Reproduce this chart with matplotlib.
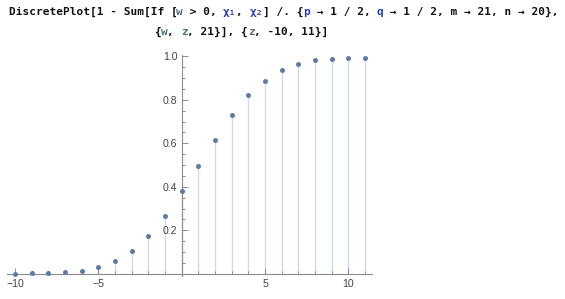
import matplotlib
matplotlib.use("Agg")
import matplotlib.pyplot as plt
from matplotlib.ticker import MultipleLocator, FixedLocator, FuncFormatter

z_values = list(range(-10, 12))
probabilities = [0.0, 0.004, 0.004, 0.007, 0.013, 0.033, 0.059, 0.107, 0.173, 0.266, 0.379,
                 0.496, 0.617, 0.729, 0.824, 0.888, 0.936, 0.963, 0.983, 0.988, 0.992, 0.992]
x_major_ticks = [-10, -5, 5, 10]
y_major_ticks = [0.2, 0.4, 0.6, 0.8, 1.0]

W, H, DPI = 565, 299, 100
fig = plt.figure(figsize=(W / DPI, H / DPI), dpi=DPI)

# Code text (Mathematica input)
BLACK = "#111111"
VAR = "#4f7286"
SYM = "#2b3fb0"
line1 = [("DiscretePlot[1 - Sum[If [", BLACK), ("w", VAR), (" > 0, ", BLACK), ("χ₁", SYM),
         (", ", BLACK), ("χ₂", SYM), ("] /. {", BLACK), ("p", SYM), (" → 1 / 2, ", BLACK),
         ("q", SYM), (" → 1 / 2, m → 21, n → 20},", BLACK)]
line2 = [("{", BLACK), ("w", VAR), (", ", BLACK), ("z", VAR), (", 21}], {", BLACK),
         ("z", VAR), (", -10, 11}]", BLACK)]

fs = 8.0
adv_px = 0.602 * fs * DPI / 72.0


def draw_line(segments, x0_px, y_px):
    x = x0_px
    for txt, col in segments:
        fig.text(x / W, 1 - y_px / H, txt, family="DejaVu Sans Mono", weight="bold",
                 fontsize=fs, color=col, ha="left", va="center")
        x += len(txt) * adv_px


n1 = sum(len(t) for t, _ in line1)
n2 = sum(len(t) for t, _ in line2)
draw_line(line1, 283 - n1 * adv_px / 2, 12)
draw_line(line2, 241 - n2 * adv_px / 2, 32)

# Plot area
x_lo, x_hi = -10.45, 11.4
y_lo, y_hi = -0.01, 1.005
px_per_x = 16.67
px_per_y = 217.5
x0_px = 181.7
y0_px = 273.8
left_px = x0_px + x_lo * px_per_x
right_px = x0_px + x_hi * px_per_x
top_px = y0_px - y_hi * px_per_y
bot_px = y0_px - y_lo * px_per_y
ax = fig.add_axes([left_px / W, 1 - bot_px / H, (right_px - left_px) / W, (bot_px - top_px) / H])
ax.set_xlim(x_lo, x_hi)
ax.set_ylim(y_lo, y_hi)
ax.patch.set_alpha(0)

ax.vlines(z_values, 0, probabilities, color="#d3dbe8", linewidth=1.0, zorder=1)
ax.plot(z_values, probabilities, "o", color="#5e7ba8", markersize=3.6,
        markeredgewidth=0, zorder=3)

axis_col = "#8c8c8c"
for s in ["top", "right"]:
    ax.spines[s].set_visible(False)
ax.spines["left"].set_position(("data", 0))
ax.spines["bottom"].set_position(("data", 0))
for s in ["left", "bottom"]:
    ax.spines[s].set_color(axis_col)
    ax.spines[s].set_linewidth(0.8)

ax.xaxis.set_major_locator(FixedLocator(x_major_ticks))
ax.xaxis.set_minor_locator(MultipleLocator(1))
ax.yaxis.set_major_locator(FixedLocator(y_major_ticks))
ax.yaxis.set_minor_locator(MultipleLocator(0.05))
ax.yaxis.set_major_formatter(FuncFormatter(lambda v, p: f"{v:.1f}"))
ax.xaxis.set_major_formatter(FuncFormatter(lambda v, p: f"{int(v)}".replace("-", "\u2212")))

ax.tick_params(axis="both", which="both", direction="in", color=axis_col, width=0.7,
               labelcolor="#444444", labelsize=7.6)
ax.tick_params(axis="both", which="major", length=4)
ax.tick_params(axis="both", which="minor", length=2.3)
ax.tick_params(axis="x", which="major", pad=3.5)
ax.tick_params(axis="y", which="major", pad=3)
for lab in ax.get_xticklabels() + ax.get_yticklabels():
    lab.set_family("Liberation Sans")

fig.savefig("out.png", dpi=DPI)
